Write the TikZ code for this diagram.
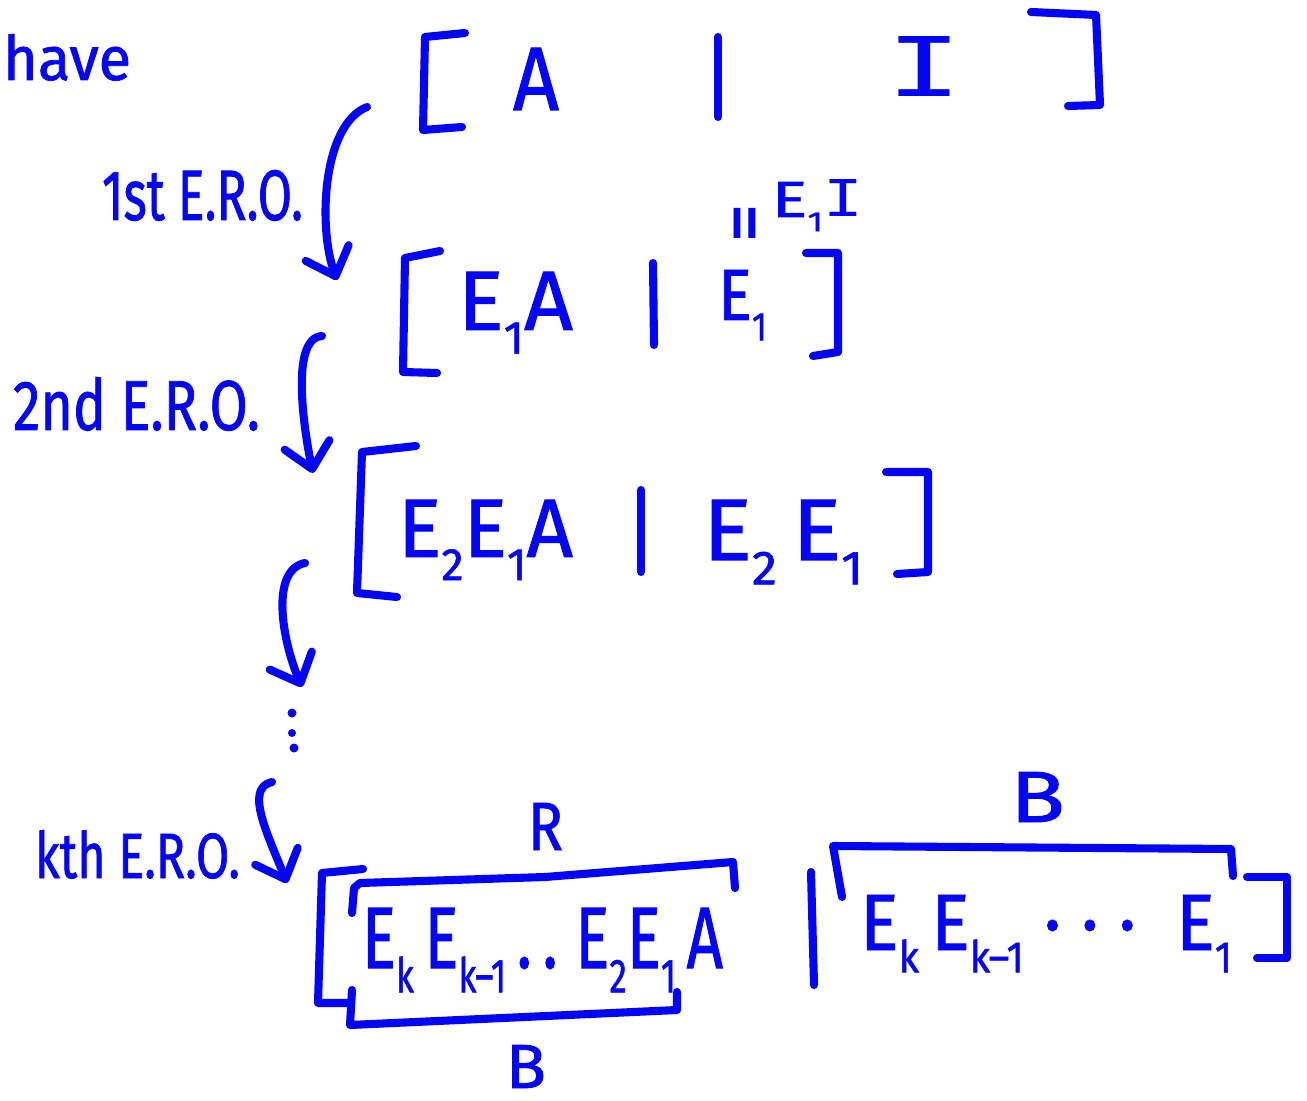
\documentclass[tikz,border=0pt]{standalone}
\usepackage{fontspec}
\setmainfont{Fira Sans}[FakeBold=1.2]
\newfontfamily\monof{DejaVu Sans Mono}
\usetikzlibrary{arrows.meta}
\definecolor{ink}{RGB}{5,5,245}
\newdimen\pxu \pxu=0.01cm
\newcommand{\hw}[3]{\resizebox{#1\pxu}{#2\pxu}{#3}}
\newcommand{\sbx}[1]{\raisebox{-0.28em}{\fontsize{11}{11}\selectfont #1}}
\newcommand{\Iv}{{\monof I}}
\begin{document}
\begin{tikzpicture}[x=0.01cm, y=-0.01cm,
  pen/.style={draw=ink, line width=2.3pt, line cap=round, line join=round},
  harrow/.style={pen, -{Straight Barb[round, length=7pt, width=13pt]}},
  txt/.style={text=ink, inner sep=0pt, outer sep=0pt, anchor=base west, font=\fontsize{20}{24}\selectfont},
  dot/.style={fill=ink}]
\useasboundingbox (0,0) rectangle (1307,1101);
\fill[white] (0,0) rectangle (1307,1101);

% labels
\node[txt] (have) at (3,80) {\hw{128}{46}{have}};
\node[txt] (l1) at (102,220) {\hw{201}{50}{1st E.R.O.}};
\node[txt] (l2) at (13,430) {\hw{247}{53}{2nd E.R.O.}};
\node[txt] (l4) at (35,878) {\hw{205}{48}{kth E.R.O.}};

% row 1: [ A | I ]
\draw[pen] (465,33) -- (425,37) -- (423,130) -- (462,127);
\node[txt] (mA) at (513,110) {\hw{46}{62}{A}};
\draw[pen] (718,37) -- (718,117);
\node[txt] (mI) at (886,97) {\hw{76}{60}{\Iv}};
\draw[pen] (1031,12) -- (1096,15) -- (1100,105) -- (1068,106);

% = E1 I
\node[txt, anchor=center, rotate=90] (eq) at (752,223) {\fontsize{22}{22}\selectfont =};
\node[txt] (e1i) at (772,217) {\hw{91}{37}{E\sbx{1}\Iv}};

% row 2: [ E1A | E1 ]
\draw[pen] (440,251) -- (405,258) -- (403,372) -- (437,373);
\node[txt] (m2a) at (458,330) {\hw{115}{58}{E\sbx{1}A}};
\draw[pen] (653,263) -- (654,345);
\node[txt] (m2b) at (718,320) {\hw{49}{50}{E\sbx{1}}};
\draw[pen] (806,253) -- (838,253) -- (838,352) -- (813,356);

% row 3: [ E2E1A | E2 E1 ]
\draw[pen] (416,446) -- (362,452) -- (357,593) -- (397,597);
\node[txt] (m3a) at (398,557) {\hw{175}{57}{E\sbx{2}E\sbx{1}A}};
\draw[pen] (641,490) -- (641,572);
\node[txt] (m3b) at (703,560) {\hw{160}{60}{E\sbx{2}\,E\sbx{1}}};
\draw[pen] (886,472) -- (928,472) -- (928,572) -- (897,574);

% vertical dots
\fill[dot] (292,713) circle (4.5);
\fill[dot] (292,733) circle (4);
\fill[dot] (294,748) circle (4.5);

% row 4
\draw[pen] (363,869) -- (322,873) -- (318,1003) -- (348,1003);
\draw[pen] (352,913) -- (354,888) -- (360,883) -- (545,877) -- (733,862) -- (735,888);
\node[txt] (R) at (528,850) {\hw{35}{47}{R}};
\node[txt] (m4a) at (362,968) {\hw{361}{60}{E\sbx{k}\,E\sbx{k–1}\,.\,.\;E\sbx{2}E\sbx{1}\,A}};
\draw[pen] (352,990) -- (350,1025) -- (677,1010) -- (677,992);
\node[txt] (Bb) at (506,1088) {\hw{40}{43}{B}};
\draw[pen] (811,872) -- (814,985);
\draw[pen] (842,897) -- (833,846) -- (1231,849) -- (1233,876);
\node[txt] (Bt) at (1010,822) {\hw{55}{50}{B}};
\node[txt] (m4b) at (860,950) {\hw{372}{55}{E\sbx{k}\,E\sbx{k–1}\;\raisebox{0.25em}{.\;.\;.}\;\;E\sbx{1}}};
\draw[pen] (1247,877) -- (1287,877) -- (1287,958) -- (1257,958);

% arrows
\coordinate (a1s) at (367,107); \coordinate (a1e) at (337,280);
\coordinate (a2s) at (322,336); \coordinate (a2e) at (313,473);
\coordinate (a3s) at (305,563); \coordinate (a3e) at (302,687);
\coordinate (a4s) at (272,782); \coordinate (a4e) at (287,883);
\draw[harrow] (a1s) .. controls (322,125) and (318,228) .. (a1e);
\draw[harrow] (a2s) .. controls (288,338) and (306,440) .. (a2e);
\draw[harrow] (a3s) .. controls (270,570) and (282,640) .. (a3e);
\draw[harrow] (a4s) .. controls (244,788) and (268,835) .. (a4e);
\end{tikzpicture}
\end{document}
